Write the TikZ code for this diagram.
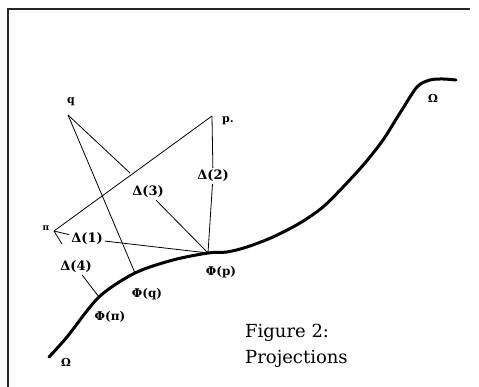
\documentclass[tikz,border=0pt]{standalone}
\usepackage{fontspec}
\setmainfont{DejaVu Serif}
\usetikzlibrary{positioning}
\tikzset{
    frameline/.style={line width=1.2pt, color=black!85},
    seg/.style={line width=0.8pt},
    curv/.style={line width=3pt, line cap=round, line join=round},
    dlab/.style={font=\fontsize{13}{15}\selectfont\bfseries, inner sep=2pt},
    flab/.style={font=\fontsize{12}{14}\selectfont\bfseries, inner sep=1pt},
    plab/.style={font=\fontsize{11}{13}\selectfont\bfseries, inner sep=1pt},
    capstyle/.style={font=\fontsize{18}{26}\selectfont, inner sep=0pt}
}

\begin{document}
\begin{tikzpicture}[x=1pt, y=-1pt]
    \useasboundingbox (0,0) rectangle (479,387);
    % frame
    \draw[frameline] (8,387) -- (8,9) -- (470,9);

    % points
    \coordinate (q) at (68,115);
    \coordinate (p) at (212,116);
    \coordinate (pi) at (54,231);
    \coordinate (qfoot) at (130,173);
    \coordinate (pifoot) at (62,244);
    \coordinate (fp) at (208,253);
    \coordinate (fq) at (135,273);
    \coordinate (fpi) at (99,297);

    % curve Omega
    \draw[curv] plot[smooth, tension=0.5] coordinates {(49,357) (67,337) (fpi) (fq) (173,260) (fp) (227,252) (247,247) (273,237) (300,223) (323,207) (345,185) (365,163) (383,140) (400,113) (417,87) (430,80) (443,79) (456,80)};

    % labels
    \node[plab] (lq) at (71,102) {q};
    \node[plab] (lp) at (228,121) {p.};
    \node[plab, font=\fontsize{9}{11}\selectfont\bfseries] (lpi) at (46,228) {π};
    \node[dlab] (d1) at (87,239) {Δ(1)};
    \node[dlab] (d2) at (213,176) {Δ(2)};
    \node[dlab] (d3) at (148,192) {Δ(3)};
    \node[dlab] (d4) at (76,267) {Δ(4)};
    \node[flab] (lfp) at (221,272) {Φ(p)};
    \node[flab] (lfq) at (147,294) {Φ(q)};
    \node[flab] (lfpi) at (110,317) {Φ(π)};
    \node[plab] (om1) at (66,362) {Ω};
    \node[plab] (om2) at (433,98) {Ω};

    % projections
    \draw[seg] (q) -- (fq);
    \draw[seg] (q) -- (qfoot);
    \draw[seg] (pi) -- (p);
    \draw[seg] (p) -- (d2) -- (fp);
    \draw[seg] (d3) -- (fp);
    \draw[seg] (pi) -- (d1) -- (fp);
    \draw[seg] (pi) -- (pifoot);
    \draw[seg] (d4) -- (fpi);

    % caption
    \node[capstyle, anchor=base west] (fig) at (245,337) {Figure 2:};
    \node[capstyle, anchor=base west] (proj) at (245,363) {Projections};
\end{tikzpicture}
\end{document}
